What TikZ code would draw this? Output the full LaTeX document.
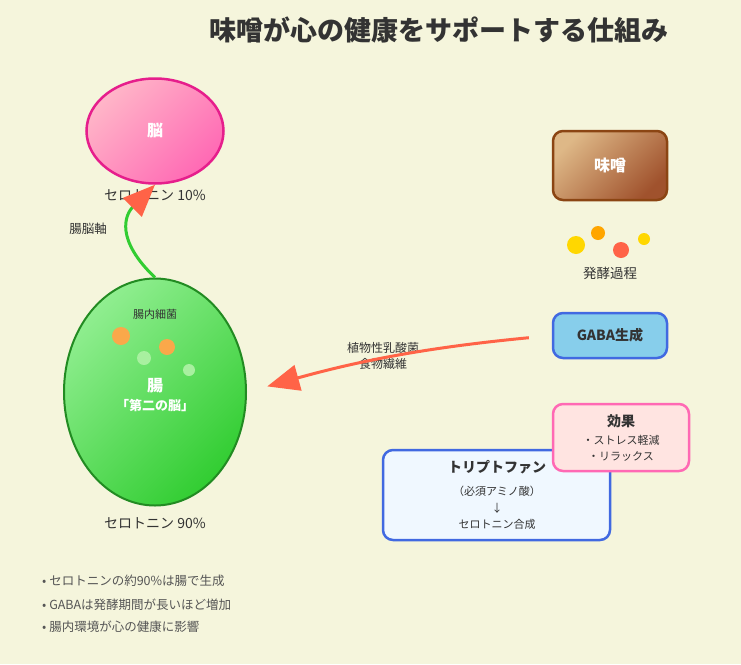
\documentclass[tikz,border=0pt]{standalone}
\usepackage{xcolor}
\usepackage{fontspec}
\setmainfont{Noto Sans CJK JP}
\usepackage{tikz}
\usetikzlibrary{shapes,arrows.meta}

\definecolor{bgbeige}{RGB}{245,245,220}
\definecolor{textdark}{RGB}{51,51,51}
\definecolor{notegray}{RGB}{85,85,85}
\definecolor{brainlight}{RGB}{255,182,200}
\definecolor{brainpink}{RGB}{255,105,180}
\definecolor{braindeep}{RGB}{230,30,140}
\definecolor{gutlight}{RGB}{144,238,144}
\definecolor{gutgreen}{RGB}{50,205,50}
\definecolor{gutdeep}{RGB}{34,139,34}
\definecolor{misolight}{RGB}{222,184,135}
\definecolor{misobrown}{RGB}{160,82,45}
\definecolor{misodeep}{RGB}{139,69,19}
\definecolor{skyfill}{RGB}{135,206,235}
\definecolor{royal}{RGB}{65,105,225}
\definecolor{alicefill}{RGB}{240,248,255}
\definecolor{mistyfill}{RGB}{255,228,225}
\definecolor{tomatored}{RGB}{255,99,71}
\definecolor{dotorange}{RGB}{255,165,0}
\definecolor{dotgold}{RGB}{255,215,0}
\definecolor{bugorange}{RGB}{250,168,74}
\definecolor{buggreen}{RGB}{168,240,160}

\newcommand{\fsz}[1]{\fontsize{#1}{#1}\selectfont}

\begin{document}
\begin{tikzpicture}[x=1pt,y=1pt,>={Triangle[length=32pt,width=26pt]}]
 \tikzstyle{every node}=[text=textdark,inner sep=0pt]
 \tikzstyle{blob}=[ellipse,shading=axis]
 \tikzstyle{card}=[rectangle,rounded corners=10pt,line width=2.5pt]
 \tikzstyle{note}=[anchor=west,text=notegray,font=\fsz{12.5pt}]
 \fill[bgbeige] (0,0) rectangle (741,-664);

 \node (title) at (439,-30) {\fsz{27pt}\bfseries 味噌が心の健康をサポートする仕組み};

 \node (brain) at (155,-131) [blob,minimum width=137pt,minimum height=105pt,
   top color=brainlight,bottom color=brainpink,shading angle=45,
   draw=braindeep,line width=2.5pt] {\fsz{16pt}\bfseries\color{white}脳};
 \node (brainsubscript) at (155,-195) {\fsz{14pt}セロトニン 10\%};

 \node (gut) at (155,-392) [blob,minimum width=182pt,minimum height=227pt,
   top color=gutlight,bottom color=gutgreen,shading angle=45,
   draw=gutdeep,line width=2pt] {};
 \node (bacteria) at (155,-314) {\fsz{11pt}腸内細菌};
 \fill[bugorange] (121,-336) circle (9);
 \fill[bugorange] (167,-347) circle (8);
 \fill[buggreen] (144,-358) circle (7);
 \fill[buggreen] (189,-370) circle (6);
 \node (gutname) at (155,-386) {\fsz{16pt}\bfseries\color{white}腸};
 \node (secondbrain) at (155,-405) {\fsz{13pt}\bfseries\color{white}「第二の脳」};
 \node (gutsubscript) at (155,-523) {\fsz{14pt}セロトニン 90\%};

 \node (miso) at (610,-165.5) [card,minimum width=114pt,minimum height=69pt,
   top color=misolight,bottom color=misobrown,shading angle=45,draw=misodeep]
   {\fsz{16pt}\bfseries\color{white}味噌};
 \fill[dotgold] (576,-245) circle (9);
 \fill[dotorange] (598,-233) circle (7);
 \fill[tomatored] (621,-250) circle (8);
 \fill[dotgold] (644,-239) circle (6);
 \node (ferment) at (610,-273) {\fsz{13.5pt}発酵過程};

 \node (gaba) at (610,-335.5) [card,minimum width=114pt,minimum height=45pt,
   fill=skyfill,draw=royal] {\fsz{14pt}\bfseries GABA生成};

 \node (trp) at (496.5,-495) [card,minimum width=227pt,minimum height=90pt,
   fill=alicefill,draw=royal] {};
 \node (trptitle) at (497,-467) {\fsz{14pt}\bfseries トリプトファン};
 \node (trpsub) at (497,-491) {\fsz{11pt}（必須アミノ酸）};
 \node (trparrow) at (497,-508) {\fsz{11pt}↓};
 \node (trpsynth) at (497,-524) {\fsz{11pt}セロトニン合成};

 \node (effect) at (621,-437.5) [card,minimum width=136pt,minimum height=67pt,
   fill=mistyfill,draw=brainpink] {};
 \node (effecttitle) at (621,-421) {\fsz{14pt}\bfseries 効果};
 \node (effectone) at (621,-440) {\fsz{11pt}・ストレス軽減};
 \node (effecttwo) at (621,-456) {\fsz{11pt}・リラックス};

 \node (axisname) at (88,-229) {\fsz{12.5pt}腸脳軸};
 \node (lactic) at (383,-348) {\fsz{12pt}植物性乳酸菌};
 \node (fiber) at (383,-364) {\fsz{12pt}食物繊維};

 \draw [-{Triangle[length=32pt,width=26pt,color=tomatored]},gutgreen,line width=3pt]
   (gut.north) .. controls +(-40,38) and +(-30,-30) .. (brain.south);
 \draw [->,tomatored,line width=3pt,shorten <=23pt,shorten >=21pt]
   (gaba.west) to[bend right=5] (gut.east);

 \node (noteone) at (42,-581) [note] {• セロトニンの約90\%は腸で生成};
 \node (notetwo) at (42,-605) [note] {• GABAは発酵期間が長いほど増加};
 \node (notethree) at (42,-627) [note] {• 腸内環境が心の健康に影響};
\end{tikzpicture}
\end{document}
